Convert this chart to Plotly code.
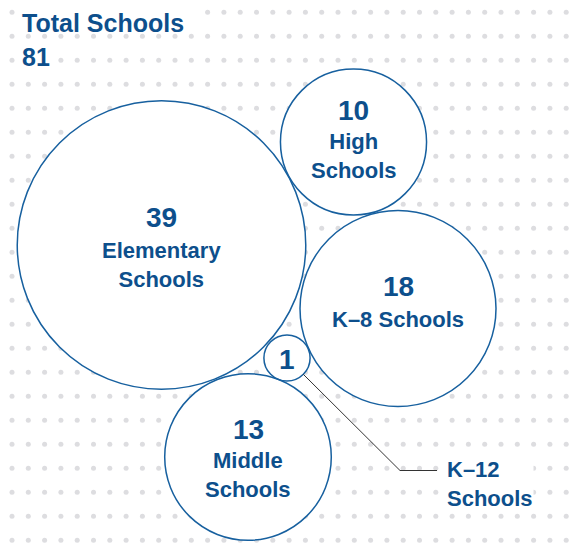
import math
import numpy as np
import plotly.graph_objects as go

# data
categories = ["Elementary<br>Schools", "High<br>Schools", "K\u20138 Schools", "Middle<br>Schools", "K\u201312<br>Schools"]
counts = [39, 10, 18, 13, 1]
total_label = "Total Schools"
total_value = 81

# layout of the packed circles (pixel space, y grows downward)
centers = [(161.5, 245), (353.5, 142), (398, 308.5), (248, 457), (287, 358)]
px_per_sqrt = 23.1

text_blue = "#0d4f8c"
line_blue = "#17609f"
dot_gray = "#dddde0"
font_family = "Liberation Sans, Arial, sans-serif"

W, H = 588, 544
PAD = 8  # page body margin

fig = go.Figure()

# dotted background, left empty behind the headline
dx = np.arange(12, W, 16.3)
dy = np.arange(12.3, H, 24)
gx, gy = np.meshgrid(dx, dy)
gx, gy = gx.ravel(), gy.ravel()
hidden = ((gx > 18) & (gx < 200) & (gy < 30)) | ((gx > 18) & (gx < 54) & (gy > 45) & (gy < 70))
fig.add_trace(go.Scatter(
    x=gx[~hidden], y=gy[~hidden], mode="markers",
    marker=dict(size=5, color=dot_gray, line=dict(width=0)),
    hoverinfo="skip", showlegend=False, cliponaxis=False
))

shapes = []
radii = [px_per_sqrt * math.sqrt(v) for v in counts]

# white discs first, then outlines so overlaps show both strokes
for (cx, cy), r in zip(centers, radii):
    shapes.append(dict(type="circle", xref="x", yref="y", layer="above",
                       x0=cx - r, x1=cx + r, y0=cy - r, y1=cy + r,
                       fillcolor="white", line=dict(width=0)))
for (cx, cy), r in zip(centers, radii):
    shapes.append(dict(type="circle", xref="x", yref="y", layer="above",
                       x0=cx - r, x1=cx + r, y0=cy - r, y1=cy + r,
                       fillcolor="rgba(0,0,0,0)", line=dict(color=line_blue, width=1.5)))

# leader line for the K-12 circle
kcx, kcy = centers[4]
kr = radii[4]
sx, sy = kcx + kr * math.cos(math.pi / 4), kcy + kr * math.sin(math.pi / 4)
elbow = (400, 470.5)
shapes.append(dict(type="path", xref="x", yref="y", layer="above",
                   path=f"M {sx},{sy} L {elbow[0]},{elbow[1]} L 437,{elbow[1]}",
                   line=dict(color="#333333", width=1)))

annotations = []

def label(text, x, y, size, xanchor="center", bg=None):
    annotations.append(dict(
        text=f"<b>{text}</b>", x=x, y=y, xref="x", yref="y", showarrow=False,
        xanchor=xanchor, yanchor="middle", align="left" if xanchor == "left" else "center",
        font=dict(family=font_family, size=size, color=text_blue),
        bgcolor=bg, borderpad=0
    ))

num_size = 28
lab_size = 22

# numbers and names inside circles
offsets = [(-28, 20), (-32, 14), (-22, 11), (-28, 18)]
for i in range(4):
    cx, cy = centers[i]
    no, lo = offsets[i]
    label(str(counts[i]), cx, cy + no, num_size)
    label(categories[i], cx, cy + lo, lab_size)

label(str(counts[4]), kcx, kcy + 1, num_size)
label(categories[4], 446, 483.5, lab_size, xanchor="left", bg="white")

# headline
label(total_label, 21, 23, 25, xanchor="left")
label(str(total_value), 21, 57, 25, xanchor="left")

fig.update_layout(
    width=W - PAD, height=H - PAD,
    margin=dict(l=0, r=0, t=0, b=0),
    paper_bgcolor="white", plot_bgcolor="white",
    xaxis=dict(range=[PAD, W], visible=False, fixedrange=True),
    yaxis=dict(range=[H, PAD], visible=False, fixedrange=True),
    shapes=shapes, annotations=annotations,
    showlegend=False
)

fig.write_html("out.html")
